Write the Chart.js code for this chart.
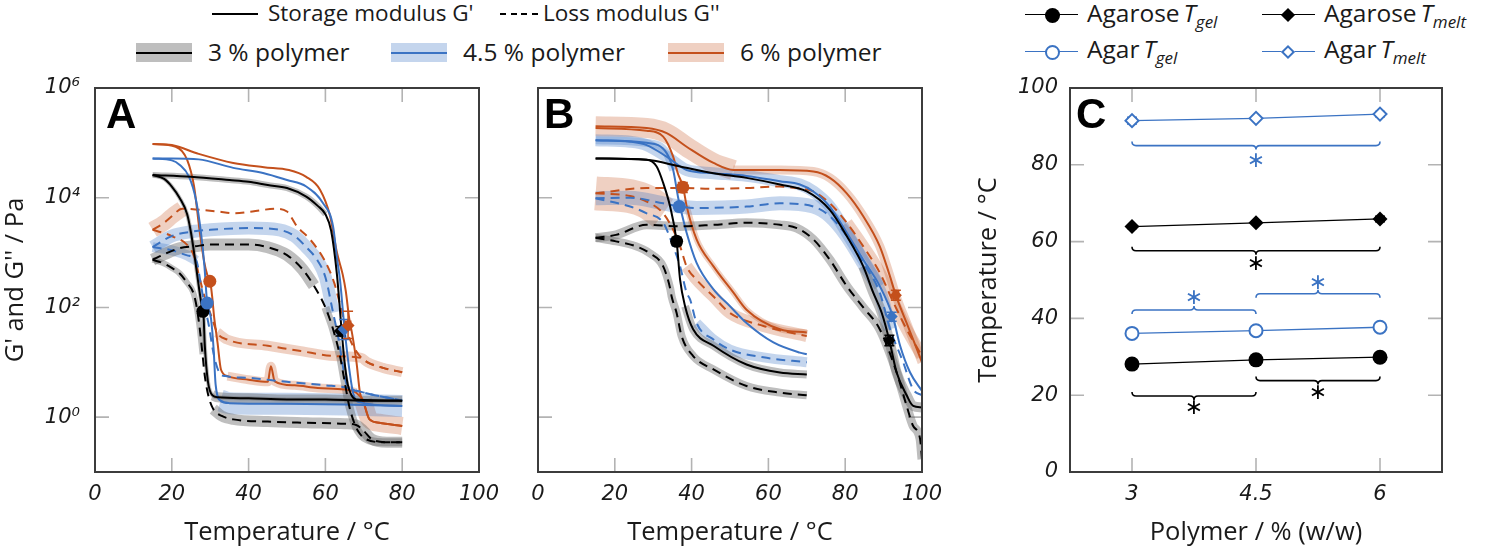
<!DOCTYPE html>
<html><head><meta charset="utf-8"><title>Rheology of agarose and agar</title>
<script src="https://cdn.jsdelivr.net/npm/chart.js@4.4.1/dist/chart.umd.min.js"></script>
<style>
html,body{margin:0;padding:0;background:#fff;}
body{position:relative;width:1500px;height:551px;overflow:hidden;font-family:"Open Sans",sans-serif;color:#1a1a1a;}
canvas{position:absolute;top:60px;}
.t{position:absolute;font-size:24.5px;line-height:30px;white-space:nowrap;}
.t.s{font-size:22.5px;}
.t i{margin-left:4px;}
.t sub{font-size:17px;font-style:italic;vertical-align:-6px;line-height:0;}
.ln{position:absolute;height:0;}
.band{position:absolute;top:43px;width:56px;height:19px;}
.band i{position:absolute;left:0;right:0;top:8.5px;height:2px;}
.mk{position:absolute;box-sizing:border-box;}
.letter{position:absolute;font-family:"Liberation Sans",Arial,sans-serif;font-weight:bold;font-size:42px;line-height:42px;color:#000;}
</style></head><body>
<!-- left legend -->
<div class="ln" style="left:212px;top:13px;width:46px;border-top:2px solid #000"></div>
<div class="t s" style="left:268px;top:-2.5px">Storage modulus G'</div>
<div class="ln" style="left:500px;top:13px;width:38px;height:2px;background:repeating-linear-gradient(90deg,#000 0 6px,transparent 6px 10.7px)"></div>
<div class="t s" style="left:543px;top:-2.5px">Loss modulus G''</div>
<div class="band" style="left:136px;background:#bebebe"><i style="background:#000"></i></div>
<div class="t" style="left:208px;top:36.5px">3 % polymer</div>
<div class="band" style="left:391px;background:#c4d5ed"><i style="background:#3b73c3"></i></div>
<div class="t" style="left:463px;top:36.5px">4.5 % polymer</div>
<div class="band" style="left:668px;background:#efd0c2"><i style="background:#c4501c"></i></div>
<div class="t" style="left:740px;top:36.5px">6 % polymer</div>
<!-- right legend -->
<div class="ln" style="left:1025px;top:14px;width:53px;border-top:1.5px solid #000"></div>
<div class="mk" style="left:1045px;top:8px;width:15px;height:15px;border-radius:50%;background:#000"></div>
<div class="t" style="left:1087px;top:-2.5px">Agarose<i>T</i><sub>gel</sub></div>
<div class="ln" style="left:1262px;top:14px;width:53px;border-top:1.5px solid #000"></div>
<div class="mk" style="left:1283px;top:10px;width:10px;height:10px;background:#000;transform:rotate(45deg)"></div>
<div class="t" style="left:1324px;top:-2.5px">Agarose<i>T</i><sub>melt</sub></div>
<div class="ln" style="left:1025px;top:51px;width:53px;border-top:1.5px solid #3b73c3"></div>
<div class="mk" style="left:1045px;top:45px;width:15px;height:15px;border-radius:50%;background:#fff;border:2px solid #3b73c3"></div>
<div class="t" style="left:1087px;top:33.5px">Agar<i>T</i><sub>gel</sub></div>
<div class="ln" style="left:1262px;top:51px;width:53px;border-top:1.5px solid #3b73c3"></div>
<div class="mk" style="left:1283px;top:47px;width:10px;height:10px;background:#fff;border:2px solid #3b73c3;transform:rotate(45deg)"></div>
<div class="t" style="left:1324px;top:33.5px">Agar<i>T</i><sub>melt</sub></div>

<canvas id="cA" width="520" height="491" style="left:0px"></canvas>
<canvas id="cB" width="480" height="491" style="left:480px"></canvas>
<canvas id="cC" width="540" height="491" style="left:960px"></canvas>

<div class="letter" style="left:106px;top:93px">A</div>
<div class="letter" style="left:544px;top:93px">B</div>
<div class="letter" style="left:1076px;top:93px">C</div>

<script>
// ---------------- DATA ----------------
// temperature (°C), modulus (Pa)
// Panel A – agarose
const A3_Gs_cool = [[15,2.6e4],[18,2.2e4],[20,1.6e4],[22,1.0e4],[24,5.0e3],[25,2.3e3],[26,800],[27,250],[27.8,110],[28.2,85],[28.6,20],[29.4,4.5],[30.6,2.5],[32,2.3],[40,2.2],[50,2.1],[60,2.1],[70,2.0],[80,2.0]];
const A3_Gs_heat = [[15,2.6e4],[25,2.4e4],[35,2.1e4],[40,1.95e4],[45,1.7e4],[50,1.5e4],[55,1.05e4],[58,7.1e3],[60,5.0e3],[61.5,2.5e3],[63,400],[64.2,40],[65,10],[65.8,4],[66.8,2.5],[68,2.1],[80,2.0]];
const A3_Gl_cool = [[15,740],[18,630],[20,525],[22,420],[24,280],[25.6,186],[26.5,100],[27.3,40],[28,14],[28.6,5.6],[29.5,2.5],[30.8,1.4],[33,1.05],[36,0.91],[45,0.83],[55,0.79],[65,0.76],[68,0.72],[70,0.56],[72,0.4],[76,0.35],[80,0.35]];
const A3_Gl_heat = [[15,740],[18,930],[22,1.2e3],[26,1.3e3],[30,1.4e3],[40,1.4e3],[45,1.25e3],[50,900],[54,500],[57,250],[60,100],[62,40],[63.8,13],[65,4.5],[66.2,1.6],[67.5,0.79],[68.5,0.56],[70,0.42],[75,0.35],[80,0.35]];
const A45_Gs_cool = [[15,5.2e4],[20,4.8e4],[22,4.0e4],[24.5,2.4e4],[26.3,9.1e3],[27.6,2.3e3],[28.5,560],[29.2,123],[30.2,63],[30.9,17],[31.4,4],[32.7,2.0],[35,1.8],[50,1.75],[65,1.7],[80,1.6]];
const A45_Gs_heat = [[15,5.2e4],[20,5.2e4],[27,5.0e4],[36,3.5e4],[44,2.8e4],[50,2.1e4],[55,1.6e4],[59.4,7.9e3],[62,3.0e3],[63,800],[63.8,320],[64.8,56],[65.8,12.6],[67.2,2.8],[68.5,1.9],[80,1.6]];
const A45_Gl_cool = [[15,1.26e3],[20,1.1e3],[24,890],[26.4,710],[27.5,280],[28.5,110],[29.7,45],[30.5,20],[31.4,10],[32.5,6.3],[34,5.6],[40,5.2],[50,4.4],[60,3.8],[65,3.5],[70,2.8],[80,2.0]];
const A45_Gl_heat = [[15,1.26e3],[20,2.0e3],[25,2.4e3],[30,2.6e3],[40,2.8e3],[48,2.6e3],[52,2.0e3],[55,1.26e3],[58,710],[60,355],[62,80],[63.5,25],[64.5,8.9],[65.5,4.0],[67,3.2],[70,2.8],[80,2.0]];
const A6_Gs_cool = [[15,9.5e4],[21,8.5e4],[24,4.9e4],[25.8,1.6e4],[27.3,2.3e3],[28.4,700],[29.2,400],[30,300],[30.5,160],[31,69],[31.9,23],[32.8,7.4],[34.5,5.6],[40,4.8],[45,4.4],[45.8,8.5],[46.8,4.5],[52,3.8],[58,3.4],[65,3.2],[68,2.8],[69.8,2.0],[71.5,0.91],[74,0.79],[80,0.69]];
const A6_Gs_heat = [[15,9.5e4],[20,9.1e4],[27,6.3e4],[36,4.3e4],[44,3.6e4],[50.5,3.2e4],[55,2.4e4],[58.6,1.4e4],[61.2,4.7e3],[63,1.0e3],[64.5,400],[65.3,200],[66.2,63],[67,32],[68.1,10],[69,2.8],[69.8,2.0],[71.5,0.91],[74,0.79],[80,0.69]];
const A6_Gl_cool = [[15,2.6e3],[20,2.0e3],[24.5,1.26e3],[26,790],[27,400],[28.5,160],[29.5,100],[30.5,63],[31.8,35],[34.4,26],[45,20],[53.6,16],[62.3,13],[69.3,12],[71,10],[75,7.9],[80,6.6]];
const A6_Gl_heat = [[15,2.6e3],[18,3.5e3],[20,4.6e3],[22.7,6.3e3],[27.3,6.0e3],[32,5.6e3],[36,5.2e3],[41,5.6e3],[47,6.3e3],[50,5.6e3],[52.6,3.0e3],[56,1.74e3],[59.7,740],[62.3,280],[64,100],[65.5,40],[66.5,25],[68,16],[70,11],[75,7.9],[80,6.6]];

// Panel B – agar
const B3_Gs_cool = [[15,5.2e4],[28.3,4.9e4],[30.9,3.7e4],[32.6,1.86e4],[34.4,6.9e3],[36.1,1.6e3],[37,320],[38.3,105],[40.4,40],[45.7,20],[54.3,9.1],[63,6.5],[70,6.0]];
const B3_Gs_heat = [[15,5.2e4],[28.3,4.9e4],[37,3.7e4],[45.7,2.8e4],[54.3,2.3e4],[63,1.74e4],[70,1.3e4],[76,6.0e3],[80.4,2.0e3],[84.7,560],[87.3,186],[89.5,80],[91.5,25],[93.4,6.5],[96,2.5],[97.7,1.6],[100,1.5]];
const B3_Gl_cool = [[15,1.86e3],[20.3,1.6e3],[25.5,1.3e3],[29,980],[32.6,560],[34.4,224],[34.8,158],[36.1,79],[37.4,30],[40.4,13],[45.7,7.4],[54.3,3.7],[63,2.8],[70,2.5]];
const B3_Gl_heat = [[15,1.86e3],[20.3,2.1e3],[28.3,3.2e3],[37,3.0e3],[45.7,3.2e3],[54.3,3.5e3],[63,3.2e3],[67.4,2.8e3],[71.7,1.74e3],[76,740],[80.4,245],[84.7,100],[89,40],[93.4,6.5],[96,1.6],[97.7,0.69],[99.5,0.4],[100,0.17]];
const B45_Gs_cool = [[15,1.12e5],[28.3,1.0e5],[33.5,6.5e4],[35.2,3.2e4],[36.5,1.0e4],[37,6.9e3],[38.7,2.3e3],[41.3,650],[45.7,214],[50,105],[54.3,52],[61.3,23],[68.2,15],[70,14]];
const B45_Gs_heat = [[15,1.12e5],[24,1.05e5],[28.3,9.1e4],[33.5,5.6e4],[38.7,3.2e4],[45.7,2.8e4],[54.3,2.5e4],[63,2.0e4],[68.2,1.74e4],[71.7,1.3e4],[76,6.9e3],[80.4,2.3e3],[84.7,740],[89,245],[92.4,68],[94.3,20],[96.9,6.5],[100,3.0]];
const B45_Gl_cool = [[15,9.8e3],[24,6.9e3],[28.3,5.2e3],[32.6,3.5e3],[35.2,1.3e3],[37,560],[38.7,186],[39.6,140],[41.3,52],[45.7,26],[50,17],[58.7,12.3],[70,10]];
const B45_Gl_heat = [[15,9.8e3],[24,1.0e4],[32.6,7.9e3],[37,6.9e3],[41.3,6.5e3],[54.3,6.9e3],[63,7.9e3],[71.7,6.9e3],[76,4.6e3],[80.4,2.0e3],[84.7,650],[89,186],[91.7,40],[95.1,10],[97.7,3.2],[100,2.5]];
const B6_Gs_cool = [[15,1.86e5],[28.3,1.66e5],[32.6,1.3e5],[35.2,5.6e4],[36.4,2.8e4],[37.8,1.55e4],[38.7,7.1e3],[41.3,1.74e3],[45.7,560],[50.9,186],[54.3,91],[63,40],[70,35]];
const B6_Gs_heat = [[15,2.0e5],[28.3,1.86e5],[33.5,1.5e5],[38.7,8.5e4],[45.7,4.3e4],[50.9,3.2e4],[63,3.2e4],[71.7,3.0e4],[76,2.3e4],[80.4,1.2e4],[84.7,4.6e3],[89,1.3e3],[91.5,400],[93.2,166],[96,52],[100,10]];
const B6_Gl_cool = [[15,1.2e4],[24,1.07e4],[28.3,8.5e3],[32.6,5.2e3],[35.2,2.6e3],[37,1.3e3],[38.7,560],[41.3,320],[45.7,158],[50,79],[58.7,46],[70,30]];
const B6_Gl_heat = [[15,1.2e4],[28.3,1.5e4],[37,1.5e4],[45.7,1.45e4],[54.3,1.5e4],[63,1.6e4],[67.4,1.5e4],[71.7,1.3e4],[76,7.9e3],[80.4,3.5e3],[84.7,1.3e3],[89,430],[92.5,126],[96,40],[100,13]];

// Panel C – transition temperatures (°C) vs polymer content (% w/w)
const polymer = [3, 4.5, 6];
const agaroseTgel  = [28.1, 29.2, 29.9];
const agaroseTmelt = [63.9, 64.9, 65.9];
const agarTgel     = [36.1, 36.8, 37.7];
const agarTmelt    = [91.5, 92.1, 93.2];
const agaroseTgelErr  = [0.4, 0.3, 0.3];
const agaroseTmeltErr = [0.5, 0.4, 0.7];
const agarTgelErr     = [0.4, 0.3, 0.4];
const agarTmeltErr    = [0.9, 0.5, 0.7];

// moduli (Pa) at the transition markers in A and B
const A_gelG  = [85, 120, 300];
const A_meltG = [37, 40, 47];
const A_meltGlo = [30, 26, 27];
const A_meltGhi = [45, 60, 85];
const B_gelG  = [1.6e3, 6.9e3, 1.55e4];
const B_gelGlo = [1.35e3, 6.0e3, 1.25e4];
const B_gelGhi = [1.9e3, 8.0e3, 1.9e4];
const B_meltG = [25, 68, 166];
const B_meltGlo = [20, 56, 135];
const B_meltGhi = [31, 82, 205];

// significance brackets in C
const sigFrom   = [3, 3, 3, 4.5, 3, 4.5];
const sigTo     = [6, 6, 4.5, 6, 4.5, 6];
const sigLevel  = [85, 57.6, 42.2, 46.4, 19.8, 23.8];
const sigStar   = [80.8, 54.2, 45.2, 49.2, 16.5, 20.6];
const sigTip    = ['down', 'down', 'up', 'up', 'down', 'down'];
const sigSeries = ['agar', 'agarose', 'agar', 'agar', 'agarose', 'agarose'];

const tempTicks = [0, 20, 40, 60, 80, 100];
const modTicks = [1, 100, 1e4, 1e6];
const polyTicks = [3, 4.5, 6];
const degTicks = [0, 20, 40, 60, 80, 100];

// ---------------- STYLE ----------------
const BLUE = '#3b73c3';
const COL  = {'3': '#000000', '4.5': BLUE, '6': '#c4501c'};
const BAND = {'3': 'rgba(100,100,100,0.42)', '4.5': 'rgba(59,115,195,0.30)', '6': 'rgba(196,80,28,0.27)'};
const tickFont = {family: '"DejaVu Sans", sans-serif', size: 21, style: 'italic'};
const titleFont = {family: '"Open Sans", sans-serif', size: 25.5};
const SUP = {'-1': '⁻¹', '0': '⁰', '1': '¹', '2': '²', '3': '³', '4': '⁴', '5': '⁵', '6': '⁶'};

const pts = arr => arr.map(p => ({x: p[0], y: p[1]}));

function lineDs(arr, conc, dashed) {
  return {data: pts(arr), borderColor: COL[conc], borderWidth: 2, borderDash: dashed ? [9, 6] : [],
    pointRadius: 0, cubicInterpolationMode: 'monotone', fill: false, order: 2, clip: 0};
}
function bandDs(arr, conc, from, to, w) {
  return {data: pts(arr.filter(p => p[0] >= from && p[0] <= to)), borderColor: BAND[conc], borderWidth: w,
    borderCapStyle: 'butt', pointRadius: 0, cubicInterpolationMode: 'monotone', fill: false, order: 3, clip: 0};
}
function markerDs(xs, ys, style, r, errs) {
  const cols = [COL['3'], COL['4.5'], COL['6']];
  return {data: xs.map((x, i) => ({x, y: ys[i]})), showLine: false, pointStyle: style, pointRadius: r,
    pointBackgroundColor: cols, pointBorderColor: cols, pointBorderWidth: 0, order: 1, errorBars: errs};
}

// ---------------- PLUGINS ----------------
const framePlugin = {
  id: 'frame',
  beforeDatasetsDraw(chart) {
    const {ctx, chartArea: a} = chart, xs = chart.scales.x, ys = chart.scales.y, L = 14;
    ctx.save(); ctx.strokeStyle = '#b3b3b3'; ctx.lineWidth = 1.6; ctx.beginPath();
    xs.ticks.forEach(t => { const p = xs.getPixelForValue(t.value); if (p < a.left + 3 || p > a.right - 3) return;
      ctx.moveTo(p, a.bottom); ctx.lineTo(p, a.bottom - L); ctx.moveTo(p, a.top); ctx.lineTo(p, a.top + L); });
    ys.ticks.forEach(t => { const p = ys.getPixelForValue(t.value); if (p < a.top + 3 || p > a.bottom - 3) return;
      ctx.moveTo(a.left, p); ctx.lineTo(a.left + L, p); ctx.moveTo(a.right, p); ctx.lineTo(a.right - L, p); });
    ctx.stroke(); ctx.restore();
  },
  afterDatasetsDraw(chart) {
    const {ctx, chartArea: a} = chart;
    ctx.save(); ctx.strokeStyle = '#3c3c3c'; ctx.lineWidth = 2;
    ctx.strokeRect(a.left, a.top, a.right - a.left, a.bottom - a.top); ctx.restore();
  }
};
const errorBarPlugin = {
  id: 'errbars',
  beforeDatasetDraw(chart, args) {
    const d = chart.data.datasets[args.index];
    if (!d.errorBars) return;
    const {ctx} = chart, xs = chart.scales.x, ys = chart.scales.y, cap = 5;
    ctx.save(); ctx.lineWidth = 1.5;
    d.errorBars.forEach((e, i) => {
      ctx.strokeStyle = Array.isArray(d.pointBorderColor) ? d.pointBorderColor[i] : d.pointBorderColor;
      const x = xs.getPixelForValue(d.data[i].x), y = ys.getPixelForValue(d.data[i].y);
      ctx.beginPath();
      if (e.xlo != null) { const a = xs.getPixelForValue(e.xlo), b = xs.getPixelForValue(e.xhi);
        ctx.moveTo(a, y); ctx.lineTo(b, y); ctx.moveTo(a, y - cap); ctx.lineTo(a, y + cap); ctx.moveTo(b, y - cap); ctx.lineTo(b, y + cap); }
      if (e.ylo != null) { const a = ys.getPixelForValue(e.ylo), b = ys.getPixelForValue(e.yhi);
        ctx.moveTo(x, a); ctx.lineTo(x, b); ctx.moveTo(x - cap, a); ctx.lineTo(x + cap, a); ctx.moveTo(x - cap, b); ctx.lineTo(x + cap, b); }
      ctx.stroke();
    });
    ctx.restore();
  }
};
const bracePlugin = {
  id: 'braces',
  beforeDatasetsDraw(chart) {
    const {ctx} = chart, xs = chart.scales.x, ys = chart.scales.y, h = 4;
    sigFrom.forEach((f, i) => {
      const x1 = xs.getPixelForValue(f), x2 = xs.getPixelForValue(sigTo[i]), xm = (x1 + x2) / 2;
      const y = ys.getPixelForValue(sigLevel[i]);
      const s = sigTip[i] === 'down' ? 1 : -1;
      const col = sigSeries[i] === 'agar' ? BLUE : '#000';
      ctx.save(); ctx.strokeStyle = col; ctx.lineWidth = 1.6; ctx.beginPath();
      ctx.moveTo(x1, y - s * h);
      ctx.quadraticCurveTo(x1, y, x1 + h, y);
      ctx.lineTo(xm - h, y);
      ctx.quadraticCurveTo(xm, y, xm, y + s * h);
      ctx.quadraticCurveTo(xm, y, xm + h, y);
      ctx.lineTo(x2 - h, y);
      ctx.quadraticCurveTo(x2, y, x2, y - s * h);
      ctx.stroke();
      ctx.fillStyle = col; ctx.font = '22px "DejaVu Sans"'; ctx.textAlign = 'center'; ctx.textBaseline = 'middle';
      ctx.fillText('∗', xm, ys.getPixelForValue(sigStar[i]));
      ctx.restore();
    });
  }
};

// ---------------- SCALES ----------------
function xAxis(min, max, title, tickVals) {
  return {type: 'linear', min, max,
    grid: {display: false, drawTicks: false}, border: {display: false},
    ticks: {font: tickFont, color: '#1a1a1a', padding: 10, maxRotation: 0, autoSkip: false, callback: v => String(v)},
    afterBuildTicks: s => { s.ticks = tickVals.map(v => ({value: v})); },
    afterFit: s => { s.height = 79; },
    title: {display: true, text: title, font: titleFont, color: '#1a1a1a', padding: {top: 0, bottom: 3}}};
}
function logAxis(width, showLabels, title) {
  return {type: 'logarithmic', min: 0.1, max: 1e6,
    grid: {display: false, drawTicks: false}, border: {display: false},
    ticks: {display: showLabels, font: tickFont, color: '#1a1a1a', padding: 15, autoSkip: false,
      callback: v => '10' + SUP[String(Math.round(Math.log10(v)))]},
    afterBuildTicks: s => { s.ticks = modTicks.map(v => ({value: v})); },
    afterFit: s => { s.width = width; },
    title: {display: !!title, text: title || '', font: titleFont, color: '#1a1a1a', padding: {top: 0}}};
}
const baseOpts = (scales, right) => ({
  responsive: false, animation: false, events: [],
  layout: {padding: {top: 28, right, left: 0, bottom: 0}},
  plugins: {legend: {display: false}, tooltip: {enabled: false}},
  scales
});

// ---------------- PANEL A ----------------
const dsA = [
  bandDs(A3_Gs_cool, '3', 15, 80, 4), bandDs(A3_Gs_cool, '3', 30, 80, 10),
  bandDs(A3_Gs_heat, '3', 15, 60, 6),
  bandDs(A3_Gl_cool, '3', 15, 28, 6), bandDs(A3_Gl_cool, '3', 30, 80, 11),
  bandDs(A3_Gl_heat, '3', 15, 58, 12), bandDs(A3_Gl_heat, '3', 58, 80, 8),
  bandDs(A45_Gs_cool, '4.5', 32.7, 80, 22),
  bandDs(A45_Gl_cool, '4.5', 15, 26.4, 10),
  bandDs(A45_Gl_heat, '4.5', 15, 62, 13),
  bandDs(A6_Gl_heat, '6', 15, 23, 16),
  bandDs(A6_Gs_cool, '6', 33, 69, 9), bandDs(A6_Gs_cool, '6', 69, 80, 18),
  bandDs(A6_Gl_cool, '6', 31.8, 80, 10),
  lineDs(A3_Gs_cool, '3', false), lineDs(A3_Gs_heat, '3', false), lineDs(A3_Gl_cool, '3', true), lineDs(A3_Gl_heat, '3', true),
  lineDs(A45_Gs_cool, '4.5', false), lineDs(A45_Gs_heat, '4.5', false), lineDs(A45_Gl_cool, '4.5', true), lineDs(A45_Gl_heat, '4.5', true),
  lineDs(A6_Gs_cool, '6', false), lineDs(A6_Gs_heat, '6', false), lineDs(A6_Gl_cool, '6', true), lineDs(A6_Gl_heat, '6', true),
  markerDs(agaroseTgel, A_gelG, 'circle', 6.5, null),
  markerDs(agaroseTmelt, A_meltG, 'rectRot', 6.5, agaroseTmelt.map((t, i) => ({xlo: t - agaroseTmeltErr[i], xhi: t + agaroseTmeltErr[i], ylo: A_meltGlo[i], yhi: A_meltGhi[i]})))
];
new Chart(document.getElementById('cA'), {
  type: 'line', data: {datasets: dsA},
  options: baseOpts({x: xAxis(0, 100, 'Temperature / °C', tempTicks), y: logAxis(95, true, "G' and G'' / Pa")}, 41),
  plugins: [framePlugin, errorBarPlugin]
});

// ---------------- PANEL B ----------------
const dsB = [
  bandDs(B3_Gs_cool, '3', 38, 70, 8), bandDs(B3_Gs_heat, '3', 84, 100, 10),
  bandDs(B3_Gl_cool, '3', 15, 70, 8), bandDs(B3_Gl_heat, '3', 15, 100, 9),
  bandDs(B45_Gs_heat, '4.5', 15, 92, 12), bandDs(B45_Gs_cool, '4.5', 15, 36, 8),
  bandDs(B45_Gl_heat, '4.5', 15, 92, 14), bandDs(B45_Gl_cool, '4.5', 40, 70, 10),
  bandDs(B6_Gs_heat, '6', 15, 54, 20), bandDs(B6_Gs_heat, '6', 50.9, 100, 9),
  bandDs(B6_Gl_cool, '6', 15, 33, 34), bandDs(B6_Gl_cool, '6', 38.7, 70, 12),
  bandDs(B6_Gl_heat, '6', 80, 100, 12), bandDs(B6_Gs_cool, '6', 38, 70, 6),
  lineDs(B3_Gs_cool, '3', false), lineDs(B3_Gs_heat, '3', false), lineDs(B3_Gl_cool, '3', true), lineDs(B3_Gl_heat, '3', true),
  lineDs(B45_Gs_cool, '4.5', false), lineDs(B45_Gs_heat, '4.5', false), lineDs(B45_Gl_cool, '4.5', true), lineDs(B45_Gl_heat, '4.5', true),
  lineDs(B6_Gs_cool, '6', false), lineDs(B6_Gs_heat, '6', false), lineDs(B6_Gl_cool, '6', true), lineDs(B6_Gl_heat, '6', true),
  markerDs(agarTgel, B_gelG, 'circle', 6.5, agarTgel.map((t, i) => ({xlo: t - agarTgelErr[i], xhi: t + agarTgelErr[i], ylo: B_gelGlo[i], yhi: B_gelGhi[i]}))),
  markerDs(agarTmelt, B_meltG, 'rectRot', 6, agarTmelt.map((t, i) => ({xlo: t - agarTmeltErr[i], xhi: t + agarTmeltErr[i], ylo: B_meltGlo[i], yhi: B_meltGhi[i]})))
];
new Chart(document.getElementById('cB'), {
  type: 'line', data: {datasets: dsB},
  options: baseOpts({x: xAxis(0, 100, 'Temperature / °C', tempTicks), y: logAxis(58, false, null)}, 38),
  plugins: [framePlugin, errorBarPlugin]
});

// ---------------- PANEL C ----------------
function cDs(vals, errs, color, style, filled) {
  return {data: polymer.map((p, i) => ({x: p, y: vals[i]})), borderColor: color, borderWidth: 1.3,
    pointStyle: style, pointRadius: filled ? 7.5 : 6.5, pointBorderWidth: filled ? 0 : 2,
    pointBackgroundColor: filled ? color : '#ffffff', pointBorderColor: color, order: 1, clip: 0,
    errorBars: vals.map((v, i) => ({ylo: v - errs[i], yhi: v + errs[i]}))};
}
const dsC = [
  cDs(agaroseTgel, agaroseTgelErr, '#000000', 'circle', true),
  cDs(agaroseTmelt, agaroseTmeltErr, '#000000', 'rectRot', true),
  cDs(agarTgel, agarTgelErr, BLUE, 'circle', false),
  cDs(agarTmelt, agarTmeltErr, BLUE, 'rectRot', false)
];
new Chart(document.getElementById('cC'), {
  type: 'line', data: {datasets: dsC},
  options: baseOpts({
    x: xAxis(2.25, 6.75, 'Polymer / % (w/w)', polyTicks),
    y: {type: 'linear', min: 0, max: 100,
      grid: {display: false, drawTicks: false}, border: {display: false},
      ticks: {font: tickFont, color: '#1a1a1a', padding: 12, autoSkip: false},
      afterBuildTicks: s => { s.ticks = degTicks.map(v => ({value: v})); },
      afterFit: s => { s.width = 110; },
      title: {display: true, text: 'Temperature / °C', font: titleFont, color: '#1a1a1a', padding: {top: 13}}}
  }, 58),
  plugins: [framePlugin, errorBarPlugin, bracePlugin]
});
</script>
</body></html>
